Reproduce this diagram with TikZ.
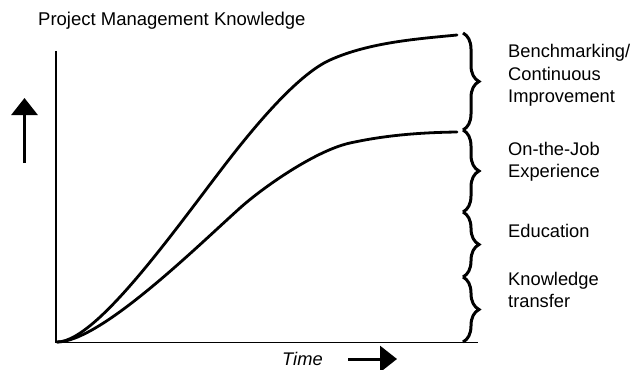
\documentclass[tikz,border=0pt]{standalone}
\usepackage{fontspec}
\setmainfont{Liberation Sans}
\usetikzlibrary{decorations.pathreplacing,arrows.meta}
\begin{document}
\begin{tikzpicture}[x=1pt,y=-1pt,
  axis/.style={line width=1.9pt},
  curve/.style={line width=2.8pt, line cap=round},
  bracket/.style={line width=3pt, decorate, decoration={brace, amplitude=16pt}},
  bigarrow/.style={line width=3pt, -{Triangle[length=17pt,width=26pt]}},
  lbl/.style={anchor=base west, align=left, inner sep=0pt, font=\fontsize{18.3}{22}\selectfont}]
\useasboundingbox (0,0) rectangle (631,369);

% axes
\coordinate (top) at (56,51);
\coordinate (origin) at (56,342.5);
\coordinate (xend) at (478,342.5);
\draw[axis] (top) -- (origin) -- (xend);

% knowledge growth curves
\coordinate (s) at (57,342);
\coordinate (u1) at (240,145.6);
\coordinate (u2) at (330,60);
\coordinate (u3) at (457,35);
\draw[curve] (s) .. controls (100,342) and (190,207.6) .. (u1)
  .. controls (262,118.3) and (300,73.5) .. (u2)
  .. controls (370,42) and (420,38.7) .. (u3);
\coordinate (v1) at (240,208);
\coordinate (v2) at (350,143);
\coordinate (v3) at (457,132);
\draw[curve] (s) .. controls (100,342) and (195,248.5) .. (v1)
  .. controls (262,188.2) and (315,150.7) .. (v2)
  .. controls (385,135.3) and (420,132.5) .. (v3);

% braces on the right
\coordinate (b0) at (463,33);
\coordinate (b1) at (463,130);
\coordinate (b2) at (463,212);
\coordinate (b3) at (463,277);
\coordinate (b4) at (463,342);
\draw[bracket] (b0) -- (b1);
\draw[bracket] (b1) -- (b2);
\draw[bracket] (b2) -- (b3);
\draw[bracket] (b3) -- (b4);

% labels (multi-line nodes sit on the baseline of their last line)
\node[lbl, font=\fontsize{18.5}{22}\selectfont] (title) at (38,26) {Project Management Knowledge};
\node[lbl] (l1) at (508,102) {Benchmarking/\\Continuous\\Improvement};
\node[lbl] (l2) at (508,177) {On-the-Job\\Experience};
\node[lbl] (l3) at (508,237) {Education};
\node[lbl] (l4) at (508,307) {Knowledge\\transfer};
\node[lbl, font=\fontsize{18.3}{22}\selectfont\itshape] (time) at (282,365) {Time};

% direction arrows
\coordinate (ua) at (24.5,163);
\coordinate (ub) at (24.5,98);
\draw[bigarrow] (ua) -- (ub);
\coordinate (ra) at (348,359);
\coordinate (rb) at (397,359);
\draw[bigarrow] (ra) -- (rb);
\end{tikzpicture}
\end{document}
